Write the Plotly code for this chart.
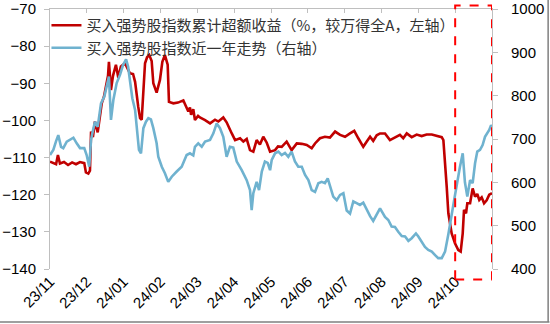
import plotly.graph_objects as go

# trading-day index (0 = first day of 23/11, ~20 trading days per label)
tick_labels = ["23/11", "23/12", "24/01", "24/02", "24/03", "24/04",
               "24/05", "24/06", "24/07", "24/08", "24/09", "24/10"]
label_step = 20
n_days = 240

red_x = [0, 1.6, 3.3, 4.3, 5.4, 7.6, 9.8, 12.0, 14.1, 16.3, 18.6, 19.5, 20.8, 21.7, 22.3,
         23.3, 24.4, 25.9, 26.6, 28.1, 29.3, 30.8, 31.5, 32.0, 33.1, 34.2, 35.8, 37.1, 38.5,
         40.7, 42.4, 43.4, 45.1, 46.2, 47.9, 48.9, 49.8, 50.7, 51.6, 52.7, 53.9, 55.2, 56.1,
         57.9, 58.8, 59.7, 61.0, 62.4, 63.9, 64.6, 67.0, 69.5, 72.4, 73.7, 75.1, 76.0, 76.6,
         77.8, 78.7, 80.4, 81.4, 84.2, 86.9, 89.6, 91.4, 94.1, 95.9, 98.7, 100.5, 103.2,
         105.0, 106.8, 108.6, 110.4, 112.2, 114.0, 115.8, 117.7, 119.5, 122.2, 123.8, 125.8,
         128.5, 131.2, 134.0, 136.7, 139.4, 142.1, 143.9, 146.6, 149.3, 152.0, 154.8, 157.5,
         160.2, 162.9, 165.2, 167.4, 170.1, 172.0, 173.8, 175.5, 177.4, 179.2, 181.9, 184.6,
         187.3, 190.0, 191.8, 193.7, 196.4, 199.1, 201.8, 204.5, 207.3, 210.0, 212.7, 213.6,
         214.5, 215.4, 216.3, 218.1, 219.9, 221.7, 223.0, 224.1, 224.8, 225.9, 226.6, 228.1,
         229.5, 230.8, 232.0, 233.1, 234.4, 235.7, 237.1, 238.5, 240]
red_y = [-111.1, -111.5, -111.8, -109.3, -111.6, -111.2, -112.0, -111.3, -111.8, -111.2,
         -111.5, -114.0, -114.3, -113.5, -103.0, -104.5, -100.3, -103.2, -101.0, -95.4,
         -93.6, -90.0, -88.0, -84.2, -91.8, -88.0, -85.0, -88.5, -85.5, -84.6, -86.5, -87.3,
         -87.5, -89.6, -96.3, -99.4, -99.8, -91.8, -84.6, -83.0, -82.4, -84.0, -90.0, -92.5,
         -91.0, -89.1, -84.2, -82.4, -85.0, -95.0, -95.4, -95.2, -94.6, -96.3, -97.6, -96.5,
         -98.5, -97.0, -99.9, -98.8, -99.2, -99.9, -100.8, -99.8, -100.3, -99.2, -100.5,
         -103.5, -105.3, -104.8, -105.7, -105.0, -108.0, -108.4, -105.3, -106.5, -104.4,
         -106.0, -108.4, -108.0, -107.0, -107.1, -105.7, -108.0, -106.2, -106.3, -106.6,
         -107.5, -106.2, -104.8, -104.4, -104.6, -103.0, -103.9, -104.4, -103.5, -102.8,
         -104.8, -107.1, -105.7, -104.4, -105.5, -104.0, -103.5, -103.5, -105.3, -104.6,
         -103.9, -104.8, -103.5, -104.5, -103.8, -104.2, -103.8, -103.8, -104.2, -104.5,
         -105.3, -110.6, -117.8, -125.0, -130.4, -133.1, -134.9, -135.3, -130.4, -124.1,
         -125.0, -122.3, -122.3, -118.3, -120.5, -119.8, -121.4, -120.7, -122.3, -121.5,
         -120.0, -119.6]

blue_x = [0, 1.8, 3.3, 4.5, 6.0, 7.2, 9.1, 10.9, 12.7, 14.5, 16.3, 18.6, 19.9, 21.3, 22.3,
          23.0, 24.4, 25.9, 27.7, 29.5, 30.8, 32.0, 33.1, 34.4, 36.2, 38.0, 39.6, 41.3, 42.4,
          43.4, 44.7, 46.2, 47.1, 48.3, 49.4, 50.7, 52.1, 53.4, 54.8, 56.1, 57.9, 58.8, 60.7,
          62.4, 64.2, 66.1, 68.8, 71.5, 74.2, 76.0, 77.8, 78.7, 80.5, 82.4, 84.2, 86.9, 88.7,
          90.5, 92.3, 94.1, 95.9, 97.7, 99.5, 101.4, 104.1, 106.8, 108.6, 109.5, 110.4, 112.2,
          113.5, 115.0, 116.7, 118.2, 119.5, 120.4, 122.2, 124.0, 125.8, 127.6, 129.4, 131.2,
          133.0, 134.8, 136.7, 138.5, 140.3, 142.1, 143.9, 145.7, 147.5, 149.3, 150.8, 152.0,
          153.8, 155.7, 157.5, 159.3, 161.1, 162.9, 164.7, 166.5, 168.3, 170.1, 172.0, 173.8,
          175.5, 177.4, 179.2, 181.9, 183.7, 185.5, 187.3, 189.1, 191.0, 192.8, 194.6, 196.4,
          198.7, 200.0, 201.8, 203.6, 205.4, 207.3, 209.1, 210.8, 212.7, 214.5, 216.3, 218.1,
          219.9, 222.6, 224.1, 225.3, 226.6, 228.1, 229.5, 230.8, 232.0, 233.5, 234.9, 236.2,
          237.5, 238.5, 239.5, 240]
blue_y = [663, 675, 695, 709, 682, 679, 694, 698, 703, 690, 679, 679, 663, 636, 698, 713,
          740, 728, 782, 798, 821, 844, 744, 790, 829, 848, 870, 884, 867, 829, 794, 767, 721,
          675, 667, 725, 740, 748, 745, 725, 690, 659, 636, 621, 601, 613, 625, 636, 663, 667,
          662, 682, 690, 682, 694, 698, 713, 736, 725, 705, 659, 682, 680, 648, 628, 605, 582,
          536, 575, 601, 582, 625, 648, 645, 628, 652, 667, 671, 663, 668, 659, 671, 648, 636,
          636, 617, 605, 582, 578, 598, 601, 598, 609, 590, 567, 559, 571, 575, 535, 528, 556,
          552, 548, 553, 536, 522, 511, 525, 540, 520, 513, 498, 497, 486, 476, 475, 465, 471,
          482, 475, 463, 451, 444, 440, 432, 425, 425, 440, 480, 530, 570, 636, 667, 600, 567,
          605, 598, 644, 671, 675, 686, 705, 713, 721, 732, 728]

red_name = "买入强势股指数累计超额收益（%，较万得全A，左轴）"
blue_name = "买入强势股指数近一年走势（右轴）"

fig = go.Figure()
fig.add_trace(go.Scatter(x=red_x, y=red_y, mode="lines", name=red_name,
                         line=dict(color="#C00000", width=2.6), xaxis="x", yaxis="y"))
fig.add_trace(go.Scatter(x=blue_x, y=blue_y, mode="lines", name=blue_name,
                         line=dict(color="#6FB2CF", width=2.6), xaxis="x2", yaxis="y2"))

axis_gray = "#BFBFBF"
tick_font = dict(family="Liberation Sans, Arial, sans-serif", size=15, color="#000000")

fig.update_layout(
    width=550, height=324,
    margin=dict(l=50, r=58, t=9, b=55),
    paper_bgcolor="white", plot_bgcolor="white",
    showlegend=True,
    legend=dict(x=-0.008, y=1.0, xanchor="left", yanchor="top",
                bgcolor="rgba(0,0,0,0)", borderwidth=0, tracegroupgap=0,
                font=dict(family="Noto Sans CJK SC, sans-serif", size=15, color="#333333")),
    xaxis=dict(range=[0, n_days], tickmode="array",
               tickvals=[i * label_step for i in range(len(tick_labels))],
               ticktext=tick_labels, tickangle=-45, showline=False, ticks="",
               showgrid=False, zeroline=False, tickfont=tick_font, automargin=False),
    xaxis2=dict(overlaying="x", side="top", anchor="y2", range=[0, n_days], tickmode="array",
                tickvals=[i * label_step for i in range(len(tick_labels) + 1)],
                showticklabels=False, ticks="inside", ticklen=4, tickcolor=axis_gray,
                showline=True, linecolor=axis_gray, linewidth=1,
                showgrid=False, zeroline=False, automargin=False),
    yaxis=dict(range=[-140, -70], dtick=10, ticks="outside", ticklen=5,
               tickcolor=axis_gray, showline=True, linecolor=axis_gray, linewidth=1,
               showgrid=False, zeroline=False, tickfont=tick_font, ticklabelstandoff=5,
               automargin=False),
    yaxis2=dict(overlaying="y", side="right", range=[400, 1000], dtick=100,
                ticks="outside", ticklen=5, tickcolor=axis_gray, showline=True,
                linecolor=axis_gray, linewidth=1, showgrid=False, zeroline=False,
                tickfont=tick_font, ticklabelstandoff=10, automargin=False),
    shapes=[
        dict(type="rect", xref="x", yref="paper", x0=220, x1=240, y0=-0.04, y1=1.013,
             line=dict(color="#FF0000", width=2, dash="dash"), fillcolor="rgba(0,0,0,0)"),
        dict(type="line", xref="paper", yref="paper", x0=-0.12, x1=1.13, y0=-0.204, y1=-0.204,
             line=dict(color="#7F7F7F", width=1.5)),
        dict(type="line", xref="paper", yref="paper", x0=1.127, x1=1.127, y0=-0.204, y1=1.04,
             line=dict(color="#7F7F7F", width=1.5)),
    ],
)

fig.write_html("out.html")
